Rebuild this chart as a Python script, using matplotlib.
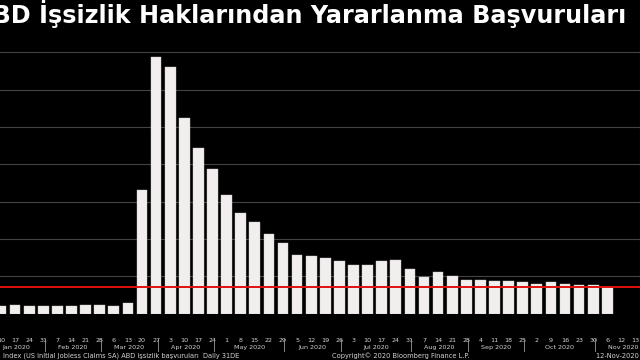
import matplotlib
matplotlib.use("Agg")
import matplotlib.pyplot as plt
import matplotlib.transforms as mtrans

# weekly initial jobless claims, millions (week ending Jan 10 .. Nov 6 2020)
claims = [0.207, 0.220, 0.212, 0.204,
          0.203, 0.211, 0.220, 0.217,
          0.211, 0.282, 3.307, 6.867,
          6.615, 5.237, 4.442, 3.867,
          3.176, 2.687, 2.446, 2.126, 1.897,
          1.577, 1.540, 1.482, 1.413,
          1.310, 1.307, 1.422, 1.435, 1.191,
          0.971, 1.104, 1.011, 0.900,
          0.893, 0.866, 0.873, 0.849,
          0.780, 0.850, 0.800, 0.770, 0.770,
          0.709]
day_labels = ['10', '17', '24', '31', '7', '14', '21', '28', '6', '13', '20', '27',
              '3', '10', '17', '24', '1', '8', '15', '22', '29', '5', '12', '19', '26',
              '3', '10', '17', '24', '31', '7', '14', '21', '28', '4', '11', '18', '25',
              '2', '9', '16', '23', '30', '6', '12', '13']
months = ['Jan 2020', 'Feb 2020', 'Mar 2020', 'Apr 2020', 'May 2020', 'Jun 2020',
          'Jul 2020', 'Aug 2020', 'Sep 2020', 'Oct 2020', 'Nov 2020']
grid_levels = [1, 2, 3, 4, 5, 6, 7]

title = "ABD İşsizlik Haklarından Yararlanma Başvuruları"
footer_left = "Index (US Initial Jobless Claims SA) ABD işsizlik başvuruları  Daily 31DE"
footer_mid = "Copyright© 2020 Bloomberg Finance L.P."
footer_right = "12-Nov-2020 16:19"

BG = 'black'
TXT = '#d4d4d4'

fig = plt.figure(figsize=(6.4, 3.6), dpi=100, facecolor=BG)
ax = fig.add_axes([0, 0.1289, 1, 0.76], facecolor=BG)

x = list(range(len(claims)))
ax.bar(x, claims, width=0.76, color='#f3eeee', edgecolor='#cfc8c8', linewidth=0.3, zorder=2)
ax.axhline(claims[-1], color='#e01010', lw=1.4, zorder=3)

ax.set_xlim(-0.071, 45.32)
ax.set_ylim(0, 7.33)
ax.set_yticks(grid_levels)
ax.yaxis.grid(True, color='#444444', lw=0.8, zorder=0)
ax.tick_params(axis='y', length=0, labelleft=False)
ax.set_xticks(range(len(day_labels)))
ax.set_xticklabels(day_labels)
ax.tick_params(axis='x', length=0, pad=17.5, labelsize=4.6, labelcolor=TXT)
for s in ['top', 'left', 'bottom']:
    ax.spines[s].set_visible(False)
ax.spines['right'].set_color('#555555')
ax.spines['right'].set_linewidth(0.8)

# month separators and labels under the day labels
tr = mtrans.blended_transform_factory(ax.transData, fig.transFigure)
seps = [i - 1 + 0.1 for i in range(1, len(day_labels))
        if int(day_labels[i]) < int(day_labels[i - 1])]
for s in seps:
    ax.plot([s, s], [1 - 338.5 / 360, 1 - 351 / 360], color='#9a9a9a', lw=0.6,
            transform=tr, clip_on=False)
edges = [seps[0] - 4] + seps + [seps[-1] + 4]
for k, m in enumerate(months):
    ax.text((edges[k] + edges[k + 1]) / 2, 1 - 347.5 / 360, m, transform=tr,
            ha='center', va='center', fontsize=4.6, color=TXT)

# title is wider than the figure in the original, the leading "A" is cut off
fig.text(626 / 640, 1 - 22.5 / 360, title, ha='right', va='baseline',
         fontsize=17.2, fontweight='bold', color='white')
fig.text(3 / 640, 1 - 356 / 360, footer_left, ha='left', va='center', fontsize=4.8, color=TXT)
fig.text(401 / 640, 1 - 356 / 360, footer_mid, ha='center', va='center', fontsize=4.8, color=TXT)
fig.text(596 / 640, 1 - 356 / 360, footer_right, ha='left', va='center', fontsize=4.8, color=TXT)

fig.savefig('out.png', dpi=100, facecolor=BG)
